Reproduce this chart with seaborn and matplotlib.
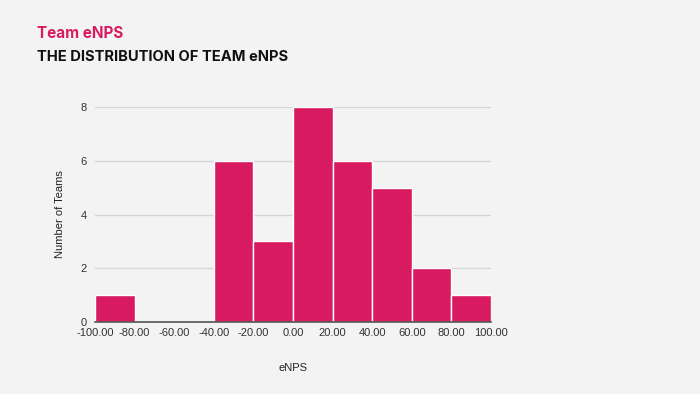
import numpy as np
import matplotlib
matplotlib.use("Agg")
import matplotlib.pyplot as plt
import seaborn as sns

# Histogram bins (eNPS) and team counts
bin_edges = [-100, -80, -60, -40, -20, 0, 20, 40, 60, 80, 100]
team_counts = [1, 0, 0, 6, 3, 8, 6, 5, 2, 1]
bin_centers = [(a + b) / 2 for a, b in zip(bin_edges[:-1], bin_edges[1:])]
y_ticks = [0, 2, 4, 6, 8]

BG = "#f3f3f3"
PINK = "#d81b60"

sns.set_theme(style="white")
plt.rcParams["font.family"] = ["Liberation Sans", "DejaVu Sans"]

fig = plt.figure(figsize=(7, 3.94), dpi=100, facecolor=BG)
ax = fig.add_axes([0.1357, 0.1827, 0.5657, 0.5457])
ax.set_facecolor(BG)

sns.histplot(x=bin_centers, weights=team_counts, bins=bin_edges, ax=ax,
             color=PINK, alpha=1, edgecolor="white", linewidth=1)

ax.set_xlim(-100, 100)
ax.set_ylim(0, 8)
ax.set_xticks(bin_edges)
ax.set_xticklabels([f"{v:.2f}" for v in bin_edges])
ax.set_yticks(y_ticks)
ax.yaxis.grid(True, color="#d6d6d6", linewidth=1)
ax.set_axisbelow(True)
for s in ["top", "right", "left"]:
    ax.spines[s].set_visible(False)
ax.spines["bottom"].set_color("#555555")
ax.spines["bottom"].set_linewidth(1.2)
ax.tick_params(axis="both", length=0, labelsize=8, colors="#333333", pad=4)
ax.tick_params(axis="y", pad=6)
ax.set_xlabel("eNPS", fontsize=8, color="#222222", labelpad=18)
ax.set_ylabel("Number of Teams", fontsize=8, color="#222222", labelpad=11)

fig.text(0.053, 0.915, "Team eNPS", fontsize=11, fontweight="bold", color=PINK,
         family=["Inter", "DejaVu Sans"], va="center")
fig.text(0.053, 0.855, "THE DISTRIBUTION OF TEAM eNPS", fontsize=10.6, fontweight="bold",
         color="#111111", family=["Inter", "DejaVu Sans"], va="center")

fig.savefig("out.png", dpi=100, facecolor=BG)
